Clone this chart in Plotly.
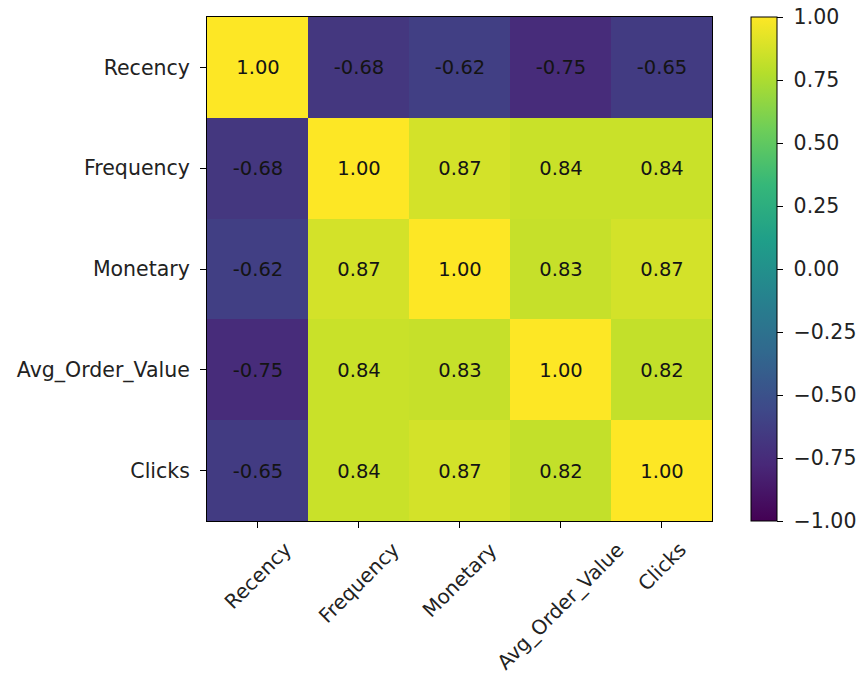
import plotly.graph_objects as go

# Feature names and their pairwise correlation matrix
features = ["Recency", "Frequency", "Monetary", "Avg_Order_Value", "Clicks"]
row_recency = [1.00, -0.68, -0.62, -0.75, -0.65]
row_frequency = [-0.68, 1.00, 0.87, 0.84, 0.84]
row_monetary = [-0.62, 0.87, 1.00, 0.83, 0.87]
row_avg_order = [-0.75, 0.84, 0.83, 1.00, 0.82]
row_clicks = [-0.65, 0.84, 0.87, 0.82, 1.00]
corr = [row_recency, row_frequency, row_monetary, row_avg_order, row_clicks]

cbar_ticks = [-1.0, -0.75, -0.5, -0.25, 0.0, 0.25, 0.5, 0.75, 1.0]

FONT = "DejaVu Sans"
LABEL_SIZE = 20.5
CELL_SIZE = 19.5
W, H = 856, 680
L, R, T, B = 207, 144, 17, 159

cell_text = [[f"{v:.2f}" for v in row] for row in corr]
# a no-break space keeps the colorbar labels clear of their tick marks
cbar_text = ["\u00a0" + f"{v:.2f}".replace("-", "\u2212") for v in cbar_ticks]

fig = go.Figure(
    go.Heatmap(
        z=corr,
        x=features,
        y=features,
        zmin=-1,
        zmax=1,
        colorscale="Viridis",
        text=cell_text,
        texttemplate="%{text}",
        textfont=dict(family=FONT, size=CELL_SIZE, color="#141414"),
        hoverinfo="skip",
        colorbar=dict(
            x=(751 - L) / (W - L - R),
            xanchor="left",
            xref="paper",
            xpad=0,
            y=0.5,
            yanchor="middle",
            ypad=0,
            len=1.0,
            lenmode="fraction",
            thickness=26,
            thicknessmode="pixels",
            outlinewidth=1,
            outlinecolor="black",
            tickvals=cbar_ticks,
            ticktext=cbar_text,
            ticks="outside",
            ticklen=6,
            tickwidth=1,
            tickcolor="black",
            tickfont=dict(family=FONT, size=LABEL_SIZE, color="#222222"),
        ),
    )
)

# Rotated, centred category labels under the x axis
for name in features:
    fig.add_annotation(
        x=name,
        xref="x",
        y=0,
        yref="paper",
        yshift=-14,
        text=name,
        textangle=-45,
        xanchor="center",
        yanchor="top",
        showarrow=False,
        font=dict(family=FONT, size=20, color="#222222"),
    )

fig.update_xaxes(
    showticklabels=False,
    ticks="outside",
    ticklen=6,
    tickcolor="black",
    showline=True,
    linecolor="black",
    linewidth=1,
    mirror=True,
    showgrid=False,
    zeroline=False,
)
fig.update_yaxes(
    autorange="reversed",
    ticks="outside",
    ticklen=6,
    tickcolor="black",
    ticklabelstandoff=6,
    tickfont=dict(family=FONT, size=LABEL_SIZE, color="#222222"),
    showline=True,
    linecolor="black",
    linewidth=1,
    mirror=True,
    showgrid=False,
    zeroline=False,
)

fig.update_layout(
    width=W,
    height=H,
    margin=dict(l=L, r=R, t=T, b=B, pad=0, autoexpand=False),
    paper_bgcolor="white",
    plot_bgcolor="white",
    font=dict(family=FONT),
)

fig.write_html("out.html")
